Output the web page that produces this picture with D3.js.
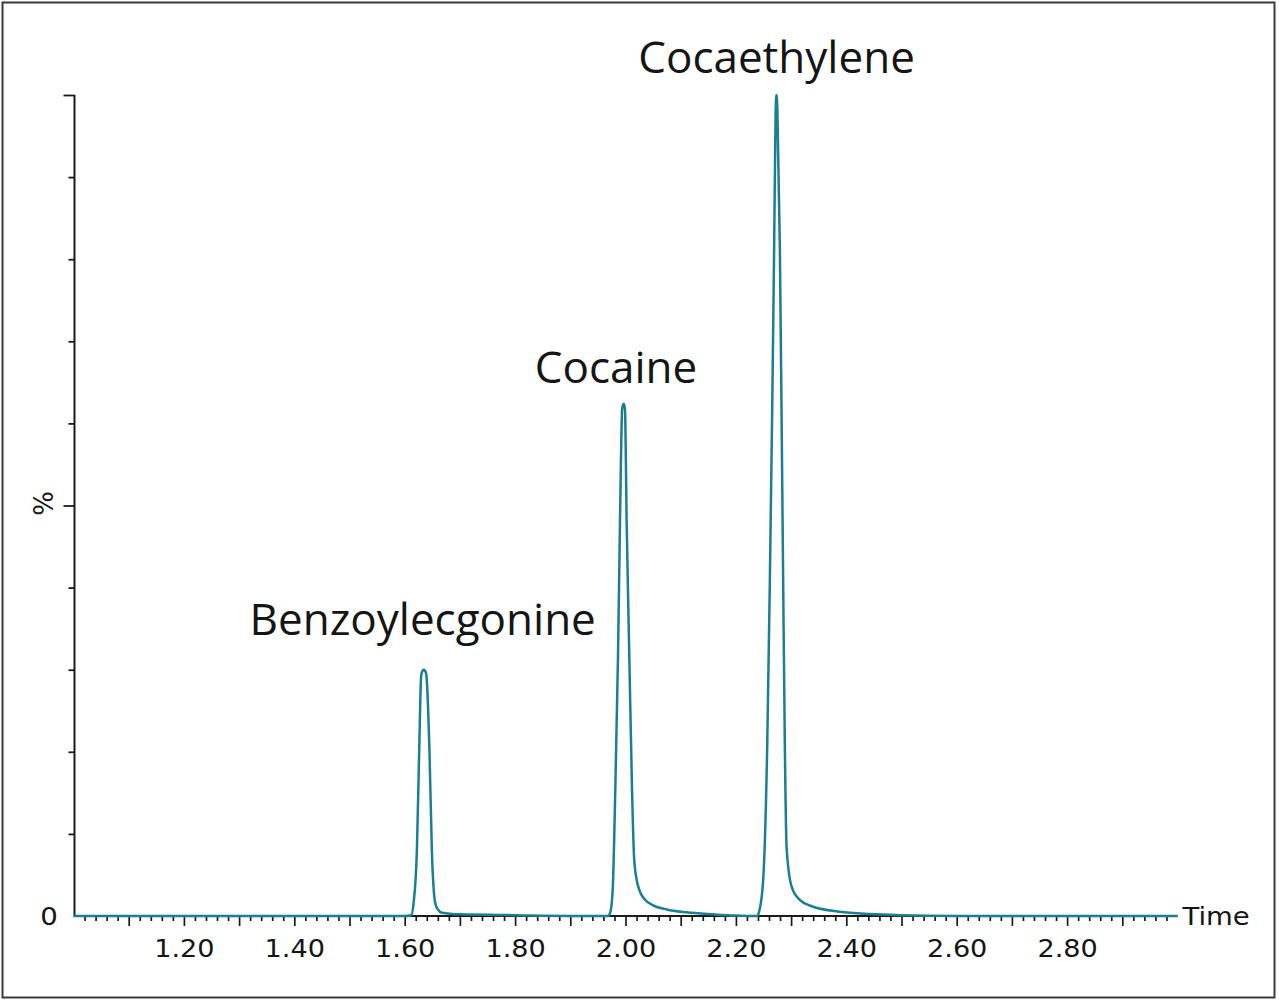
<!DOCTYPE html>
<html>
<head>
<meta charset="utf-8">
<script src="https://cdn.jsdelivr.net/npm/d3@7"></script>
<style>
  html, body { margin: 0; padding: 0; background: #fff; }
  svg { display: block; }
</style>
</head>
<body>
<svg id="chart" width="1280" height="1002"></svg>
<script>
// ---- data ----
const times = [
  1.000, 1.600, 1.6120, 1.6160, 1.6221, 1.6262, 1.6299, 1.6325, 1.6344, 1.6365, 1.6389, 1.6449, 1.6492, 1.6552, 1.6600, 1.6673, 1.700, 1.800, 1.950,
  1.9680, 1.9719, 1.9768, 1.9815, 1.9864, 1.9900, 1.9940, 1.9964, 1.9990, 2.0021, 2.0069, 2.0118, 2.0155, 2.0200, 2.0260, 2.0350, 2.0500, 2.0746, 2.1100, 2.1600, 2.2000, 2.2300,
  2.2380, 2.2420, 2.2494, 2.2567, 2.2615, 2.2657, 2.2693, 2.2720, 2.2736, 2.2752, 2.2796, 2.2827, 2.2856, 2.2887, 2.2918, 2.3008, 2.3158, 2.3399, 2.3882, 2.4425, 2.4968, 2.600, 3.000
];
const intensity = [
  0, 0, 0.1, 1.5, 8.0, 20.0, 29.3, 29.9, 30.0, 29.9, 29.5, 20.0, 8.0, 1.6, 0.8, 0.4, 0.2, 0.1, 0,
  0, 0.33, 3.2, 15.4, 31.6, 47.9, 61.8, 62.4, 61.8, 47.9, 31.6, 15.4, 7.2, 4.5, 3.0, 2.0, 1.3, 0.8, 0.45, 0.2, 0.05, 0,
  0, 0.5, 4.4, 20.6, 40.9, 61.3, 81.5, 98.0, 100, 98.0, 81.5, 61.3, 40.9, 20.6, 8.4, 3.6, 1.95, 1.13, 0.52, 0.24, 0.1, 0, 0
];
const peakNames = ["Benzoylecgonine", "Cocaine", "Cocaethylene"];
const peakTimes = [1.6344, 1.9964, 2.2736];
const peakHeights = [30.0, 62.4, 100];

const xTickLabels = [1.20, 1.40, 1.60, 1.80, 2.00, 2.20, 2.40, 2.60, 2.80];
const xMajorTicks = [1.1, 1.2, 1.3, 1.4, 1.5, 1.6, 1.7, 1.8, 1.9, 2.0, 2.1, 2.2, 2.3, 2.4, 2.5, 2.6, 2.7, 2.8, 2.9];
const yMajorTicks = [50, 100];
const yMinorTicks = [10, 20, 30, 40, 60, 70, 80, 90];
const yTickLabels = [0];
const xAxisTitle = "Time";
const yAxisTitle = "%";

// ---- drawing ----
const svg = d3.select("#chart");
const traceColor = "#1b7f93";
const axisColor = "#1a1a1a";
const textColor = "#151515";
const smallFont = "'DejaVu Sans', Verdana, sans-serif";

// frame
svg.append("rect")
  .attr("x", 2.5).attr("y", 2.5).attr("width", 1272).attr("height", 995)
  .attr("fill", "none").attr("stroke", "#3a3a3a").attr("stroke-width", 2);

const x = d3.scaleLinear().domain([1.0, 3.0]).range([73.5, 1177.5]);
const y = d3.scaleLinear().domain([0, 100]).range([916, 95]);
const axisX0 = x(1.0) + 1;

// x axis ticks
const xMinor = d3.range(1.02, 3.0, 0.02).map(v => Math.round(v * 100) / 100)
  .filter(v => Math.abs(v * 10 - Math.round(v * 10)) > 1e-6);
const gxMinor = svg.append("g").attr("transform", `translate(0,${y(0)})`)
  .call(d3.axisBottom(x).tickValues(xMinor).tickSize(5).tickSizeOuter(0).tickFormat(""));
const gxMajor = svg.append("g").attr("transform", `translate(0,${y(0)})`)
  .call(d3.axisBottom(x).tickValues(xMajorTicks).tickSize(10).tickSizeOuter(0).tickFormat(""));
const gxLab = svg.append("g").attr("transform", `translate(0,${y(0)})`)
  .call(d3.axisBottom(x).tickValues(xTickLabels).tickSize(0).tickSizeOuter(0).tickFormat(d3.format(".2f")));
[gxMinor, gxMajor, gxLab].forEach(g => {
  g.select(".domain").remove();
  g.selectAll("line").attr("stroke", axisColor).attr("stroke-width", 1.7);
});
gxLab.selectAll("text")
  .attr("y", 41).attr("dy", 0)
  .attr("transform", "scale(1.13,1)")
  .attr("fill", textColor)
  .style("font-family", smallFont)
  .style("font-size", "24px");

// y axis ticks
const gyMinor = svg.append("g").attr("transform", `translate(${axisX0},0)`)
  .call(d3.axisLeft(y).tickValues(yMinorTicks).tickSize(6).tickSizeOuter(0).tickFormat(""));
const gyMajor = svg.append("g").attr("transform", `translate(${axisX0},0)`)
  .call(d3.axisLeft(y).tickValues(yMajorTicks).tickSize(11).tickSizeOuter(0).tickFormat(""));
const gyLab = svg.append("g").attr("transform", `translate(${axisX0},0)`)
  .call(d3.axisLeft(y).tickValues(yTickLabels).tickSize(0).tickSizeOuter(0).tickFormat(d3.format("d")));
[gyMinor, gyMajor, gyLab].forEach(g => {
  g.select(".domain").remove();
  g.selectAll("line").attr("stroke", axisColor).attr("stroke-width", 1.8);
});
gyLab.selectAll("text")
  .attr("x", -14.5).attr("dy", "0.37em")
  .attr("transform", "scale(1.15,1)")
  .attr("fill", textColor)
  .style("font-family", smallFont)
  .style("font-size", "24px");

// axis lines
svg.append("line")
  .attr("x1", axisX0).attr("x2", axisX0).attr("y1", y(100)).attr("y2", y(0) + 1)
  .attr("stroke", axisColor).attr("stroke-width", 2);
svg.append("line")
  .attr("x1", axisX0).attr("x2", x(3.0)).attr("y1", y(0)).attr("y2", y(0))
  .attr("stroke", axisColor).attr("stroke-width", 2);

// axis titles
svg.append("text")
  .attr("transform", `translate(${x(3.0) + 5},${y(0) + 9}) scale(1.1,1)`)
  .attr("fill", textColor)
  .style("font-family", smallFont)
  .style("font-size", "25px")
  .text(xAxisTitle);
svg.append("text")
  .attr("transform", `translate(53,${y(50) - 2}) rotate(-90)`)
  .attr("text-anchor", "middle")
  .attr("fill", textColor)
  .style("font-family", smallFont)
  .style("font-size", "26px")
  .text(yAxisTitle);

// trace
const pts = times.map((t, i) => [t, intensity[i]]);
const line = d3.line().x(d => x(d[0])).y(d => y(d[1])).curve(d3.curveMonotoneX);
svg.append("path")
  .attr("d", line(pts))
  .attr("fill", "none")
  .attr("stroke", traceColor)
  .attr("stroke-width", 2.5)
  .attr("stroke-linejoin", "round");

// peak labels
const labelOffsets = [[-1, 35], [-7.5, 21], [0, 21.7]];
svg.append("g").selectAll("text")
  .data(peakNames)
  .join("text")
  .attr("x", (d, i) => x(peakTimes[i]) + labelOffsets[i][0])
  .attr("y", (d, i) => y(peakHeights[i]) - labelOffsets[i][1])
  .attr("text-anchor", "middle")
  .attr("fill", textColor)
  .style("font-family", "'Open Sans', sans-serif")
  .style("font-size", "44px")
  .text(d => d);
</script>
</body>
</html>
